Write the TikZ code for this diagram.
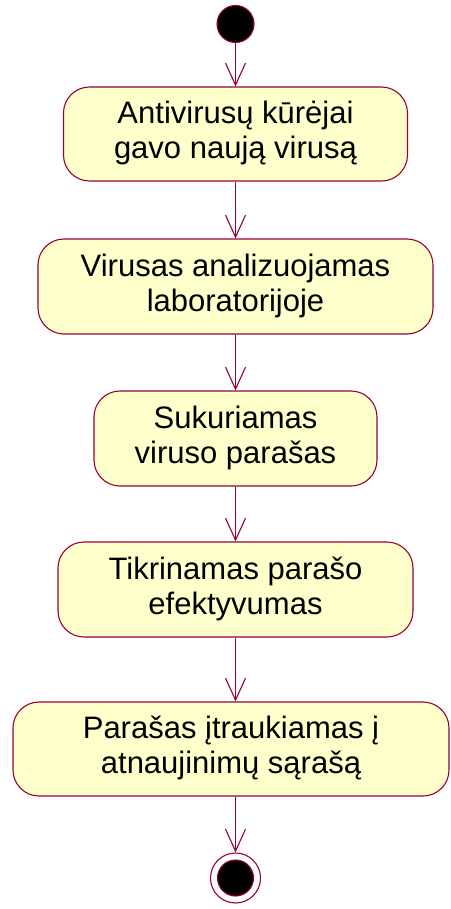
\documentclass[tikz,border=0pt]{standalone}
\usepackage{fontspec}
\setmainfont{Liberation Sans}
\usetikzlibrary{arrows.meta}
\definecolor{umlline}{RGB}{153,0,51}
\definecolor{umlfill}{RGB}{255,255,204}
% two centred lines of an activity label, 35pt apart
\newcommand{\actlabel}[2]{\raisebox{6.5pt}{\begin{tabular}{@{}c@{}}#1\\#2\end{tabular}}}
\tikzset{
  activity/.style={draw=umlline, fill=umlfill, line width=1.1pt, rectangle,
    rounded corners=26pt, inner sep=0pt,
    font=\fontsize{31pt}{35pt}\selectfont},
  flow/.style={draw=umlline, line width=1.1pt,
    -{Straight Barb[length=22pt,width=20pt,line width=1.1pt]}},
  startstate/.style={circle, draw=umlline, fill=black, line width=1.1pt,
    minimum size=37pt, inner sep=0pt},
  endring/.style={circle, draw=umlline, fill=white, line width=1.1pt,
    minimum size=50pt, inner sep=0pt},
  enddot/.style={circle, draw=umlline, fill=black, line width=1.1pt,
    minimum size=36pt, inner sep=0pt}
}
\begin{document}
\begin{tikzpicture}[x=1pt, y=-1pt]
  \useasboundingbox (0,0) rectangle (450,909);
  \node[startstate] (start) at (235.5,24) {};
  \node[activity, minimum width=344pt, minimum height=94pt] (a1) at (235.5,134)
    {\actlabel{Antivirusų kūrėjai}{gavo naują virusą}};
  \node[activity, minimum width=395pt, minimum height=95pt] (a2) at (235.5,286.5)
    {\actlabel{Virusas analizuojamas}{laboratorijoje}};
  \node[activity, minimum width=283pt, minimum height=95pt] (a3) at (235.5,438.5)
    {\actlabel{Sukuriamas}{viruso parašas}};
  \node[activity, minimum width=355pt, minimum height=95pt] (a4) at (235.5,589.5)
    {\actlabel{Tikrinamas parašo}{efektyvumas}};
  \node[activity, minimum width=436pt, minimum height=94pt] (a5) at (231,749)
    {\actlabel{Parašas įtraukiamas į}{atnaujinimų sąrašą}};
  \node[endring] (endo) at (235.5,878) {};
  \node[enddot] (endi) at (235.5,878) {};
  \coordinate (x0) at (235.5,0);
  \draw[flow] (start) -- (x0 |- a1.north);
  \draw[flow] (x0 |- a1.south) -- (x0 |- a2.north);
  \draw[flow] (x0 |- a2.south) -- (x0 |- a3.north);
  \draw[flow] (x0 |- a3.south) -- (x0 |- a4.north);
  \draw[flow] (x0 |- a4.south) -- (x0 |- a5.north);
  \draw[flow] (x0 |- a5.south) -- (endo);
\end{tikzpicture}
\end{document}
